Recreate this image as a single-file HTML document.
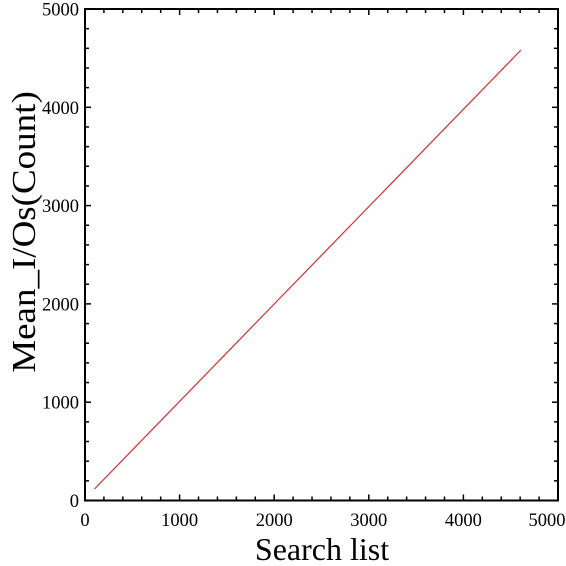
<!DOCTYPE html>
<html><head><meta charset="utf-8"><style>
body{margin:0;background:#fff}
svg{display:block;font-family:"Liberation Serif",serif}
</style></head><body>
<svg id="chart" width="566" height="566" viewBox="0 0 566 566">
<g id="ticks"></g>
<rect x="85" y="9" width="473" height="491.5" fill="none" stroke="#000" stroke-width="2"/>
<polyline id="series" fill="none" stroke="#d03030" stroke-width="1.2"/>
<text x="322" y="560" font-size="32" text-anchor="middle">Search list</text>
<text transform="translate(35,232) rotate(-90) scale(1,0.92)" font-size="37" text-anchor="middle">Mean_I/Os(Count)</text>
</svg>
<script>
const xs=[100,4609];
const ys=[117,4583];
const xTicks=[0,1000,2000,3000,4000,5000];
const yTicks=[0,1000,2000,3000,4000,5000];
const L=85,R=558,T=9,B=500.5;
const sx=v=>L+(v/5000)*(R-L), sy=v=>B-(v/5000)*(B-T);
const NS="http://www.w3.org/2000/svg";
const line=document.getElementById('series');
line.setAttribute('points',xs.map((x,i)=>sx(x)+','+sy(ys[i])).join(' '));
const g=document.getElementById('ticks');
function ln(x1,y1,x2,y2,name){const l=document.createElementNS(NS,'line');
l.setAttribute('x1',x1);l.setAttribute('y1',y1);l.setAttribute('x2',x2);l.setAttribute('y2',y2);
l.setAttribute('stroke','#000');l.setAttribute('stroke-width','1.5');


g.appendChild(l);}
for(let v=0;v<=5000;v+=200){const maj=v%1000===0,len=maj?6:4;
ln(sx(v),B,sx(v),B-len,'x-tick');ln(sx(v),T,sx(v),T+len,'x-tick-top');
ln(L,sy(v),L+len,sy(v),'y-tick');ln(R,sy(v),R-len,sy(v),'y-tick-right');}
xTicks.forEach((v,i)=>{const t=document.createElementNS(NS,'text');
let x=sx(v); if(i===xTicks.length-1) x=Math.min(x,547);
t.setAttribute('x',x);t.setAttribute('y',526);t.setAttribute('font-size','18.5');t.setAttribute('text-anchor','middle');
t.textContent=v;


g.appendChild(t);});
yTicks.forEach(v=>{const t=document.createElementNS(NS,'text');
t.setAttribute('x',79);t.setAttribute('y',sy(v)+6.5);t.setAttribute('font-size','18.5');t.setAttribute('text-anchor','end');
t.textContent=v;


g.appendChild(t);});
</script>
</body></html>
